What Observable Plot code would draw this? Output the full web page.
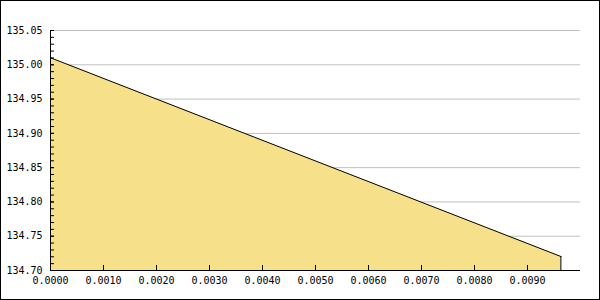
<!DOCTYPE html>
<html>
<head>
<meta charset="utf-8">
<script src="https://cdn.jsdelivr.net/npm/d3@7"></script>
<script src="https://cdn.jsdelivr.net/npm/@observablehq/plot@0.6"></script>
<style>
  html, body { margin: 0; padding: 0; background: #fff; }
  #chart svg { display: block; }
</style>
</head>
<body>
<div id="chart"></div>
<script>
// Data
const xValues = [0, 0.00963];
const yValues = [135.0102, 134.7204];
const yBase = 134.70;

// Ticks
const xTicks = [0, 0.001, 0.002, 0.003, 0.004, 0.005, 0.006, 0.007, 0.008, 0.009];
const yTicks = [134.70, 134.75, 134.80, 134.85, 134.90, 134.95, 135.00, 135.05];
const yMinorTicks = [134.70, 134.71, 134.72, 134.73, 134.74, 134.75, 134.76, 134.77, 134.78, 134.79,
  134.80, 134.81, 134.82, 134.83, 134.84, 134.85, 134.86, 134.87, 134.88, 134.89,
  134.90, 134.91, 134.92, 134.93, 134.94, 134.95, 134.96, 134.97, 134.98, 134.99,
  135.00, 135.01, 135.02, 135.03, 135.04, 135.05];

const data = xValues.map((x, i) => ({x, y: yValues[i]}));
const last = data[data.length - 1];

const fontFamily = "'DejaVu Sans Mono', monospace";

const chart = Plot.plot({
  width: 600,
  height: 300,
  marginLeft: 50,
  marginRight: 20,
  marginTop: 30,
  marginBottom: 30,
  style: {fontFamily, fontSize: "10px", color: "#000", background: "#fff"},
  x: {domain: [0, 0.01], axis: null},
  y: {domain: [134.70, 135.05], axis: null},
  marks: [
    Plot.gridY(yTicks, {stroke: "#c0c0c0", strokeOpacity: 1}),
    Plot.areaY(data, {x: "x", y1: () => yBase, y2: "y", fill: "#f6e08a", curve: "linear"}),
    Plot.lineY(data, {x: "x", y: "y", stroke: "#000", strokeWidth: 1}),
    Plot.ruleX([last], {x: "x", y1: () => yBase, y2: "y", stroke: "#000"}),
    Plot.axisY(yMinorTicks, {anchor: "left", label: null, tickSize: -4, tickFormat: () => "", stroke: "#000"}),
    Plot.axisY(yTicks, {anchor: "left", label: null, tickSize: -4, tickPadding: 12, tickFormat: d => d.toFixed(2), fill: "#000", stroke: "#000"}),
    Plot.axisX(xTicks, {anchor: "bottom", label: null, tickSize: -5, tickPadding: 11, tickFormat: d => d.toFixed(4), fill: "#000", stroke: "#000"}),
    Plot.ruleY([yBase], {stroke: "#000"}),
    Plot.ruleX([0], {stroke: "#000"})
  ]
});

d3.select(chart).append("rect")
  .attr("x", 0.5).attr("y", 0.5)
  .attr("width", 599).attr("height", 299)
  .attr("fill", "none").attr("stroke", "#000");

document.getElementById("chart").appendChild(chart);
</script>
</body>
</html>
